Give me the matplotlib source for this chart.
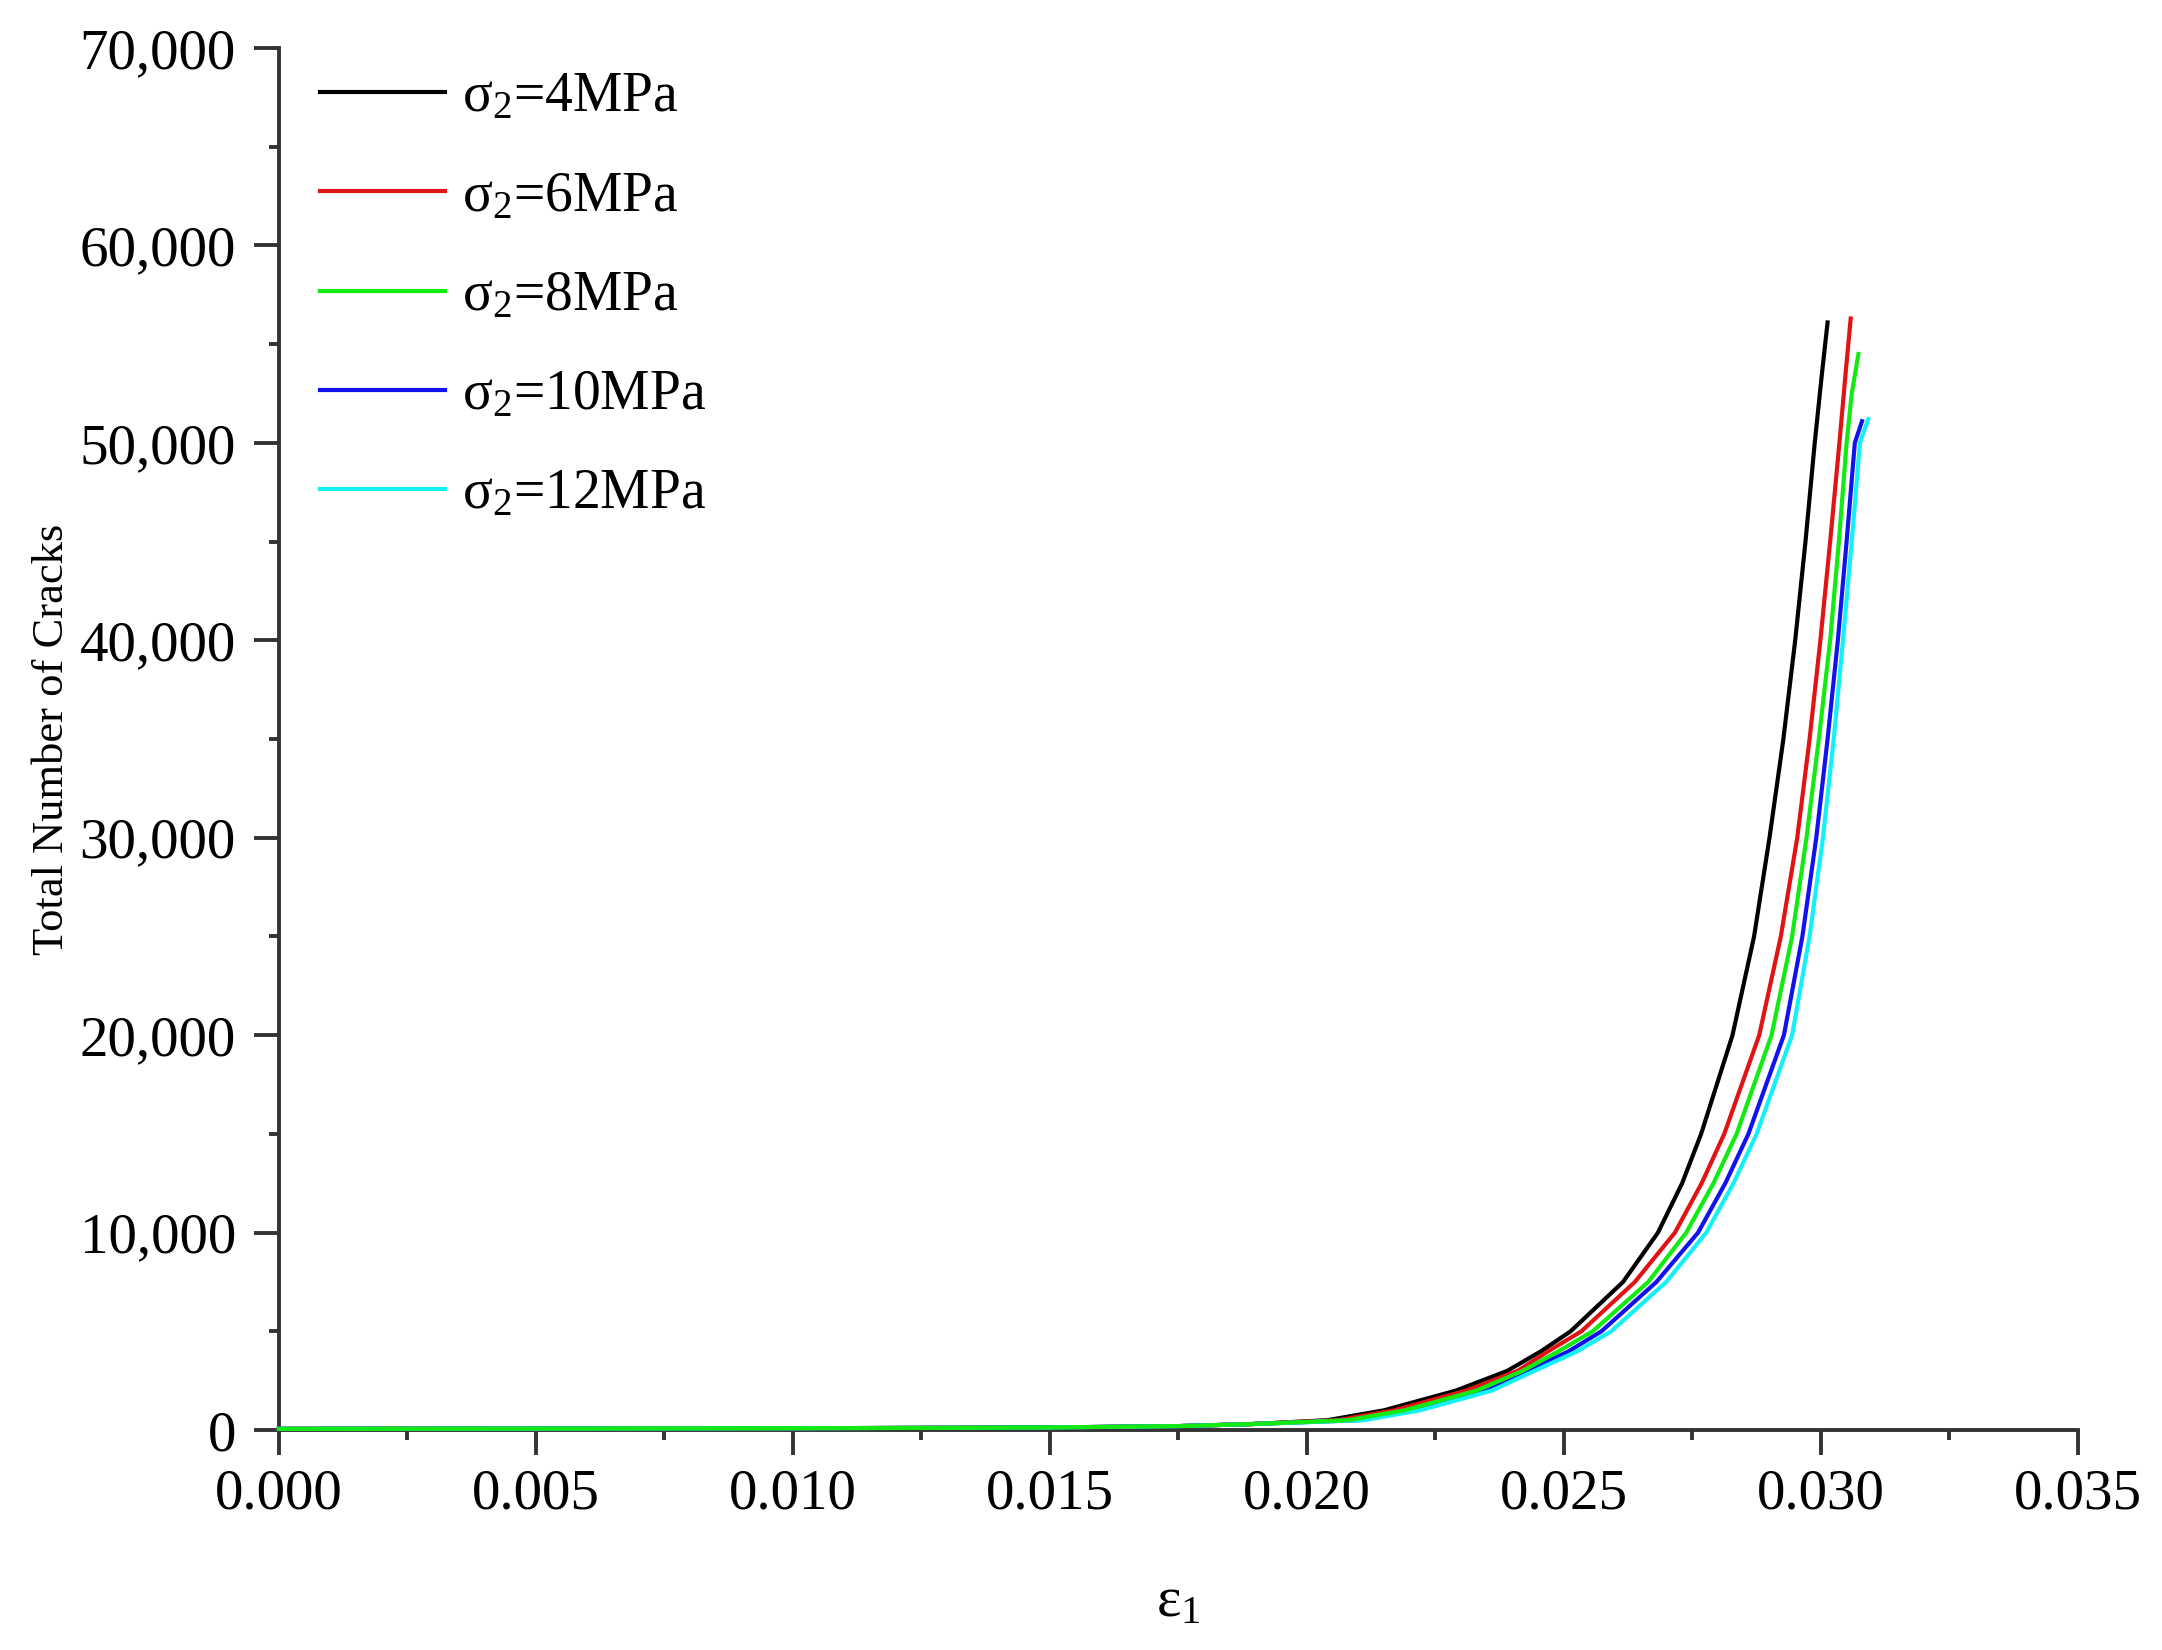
import matplotlib
matplotlib.use("Agg")
import matplotlib.pyplot as plt
from matplotlib.ticker import FuncFormatter, MultipleLocator

plt.rcParams['font.family'] = ['Liberation Serif', 'DejaVu Serif']
plt.rcParams['mathtext.fontset'] = 'custom'
plt.rcParams['mathtext.rm'] = 'Liberation Serif'
plt.rcParams['mathtext.it'] = 'Liberation Serif:italic'

# values (strain, total cracks)
labels = ['$\\mathregular{σ_2}$=4MPa', '$\\mathregular{σ_2}$=6MPa', '$\\mathregular{σ_2}$=8MPa',
          '$\\mathregular{σ_2}$=10MPa', '$\\mathregular{σ_2}$=12MPa']
colors = ['#000000', '#e01414', '#12ea12', '#1212ee', '#14f0f8']

levels = [60, 90, 130, 200, 300, 500, 1000, 2000, 3000, 4000, 5000, 7500, 10000, 12500,
          15000, 20000, 25000, 30000, 35000, 40000, 45000, 50000]

x_black = [0, 0.010, 0.015, 0.0175, 0.0189, 0.0204, 0.0215, 0.0229, 0.0239, 0.02456, 0.02513, 0.02615,
           0.02683, 0.0273, 0.02767, 0.02828, 0.0287, 0.0290, 0.02927, 0.0295, 0.0297, 0.02988,
           0.03002, 0.03013]
y_black = levels + [53500, 56100]

x_red = [0, 0.010, 0.015, 0.0175, 0.0189, 0.0206, 0.0217, 0.0231, 0.0241, 0.0247, 0.02534, 0.02638,
         0.02716, 0.02768, 0.02812, 0.0288, 0.02922, 0.02954, 0.02978, 0.02999, 0.03018, 0.03036,
         0.03048, 0.03058]
y_red = levels + [53500, 56300]

x_green = [0, 0.010, 0.015, 0.0175, 0.0189, 0.0208, 0.0219, 0.0233, 0.0242, 0.0249, 0.02556, 0.02664,
           0.02738, 0.02791, 0.02836, 0.02904, 0.02944, 0.02972, 0.02996, 0.03018, 0.03035, 0.0305,
           0.0306, 0.03073]
y_green = levels + [52500, 54500]

x_blue = [0, 0.010, 0.015, 0.0175, 0.0189, 0.0210, 0.0221, 0.0235, 0.0243, 0.0251, 0.02573, 0.0268,
          0.02761, 0.02814, 0.02859, 0.02928, 0.02964, 0.02991, 0.03013, 0.03033, 0.0305, 0.03066,
          0.0308]
y_blue = levels + [51100]

x_cyan = [0, 0.010, 0.015, 0.0175, 0.0189, 0.0211, 0.0222, 0.0236, 0.02443, 0.02527, 0.02592, 0.02699,
          0.02777, 0.0283, 0.02875, 0.02944, 0.02978, 0.03004, 0.03025, 0.03043, 0.0306, 0.03076,
          0.03092]
y_cyan = levels + [51200]

xs = [x_black, x_red, x_green, x_blue, x_cyan]
ys = [y_black, y_red, y_green, y_blue, y_cyan]
zorders = [3, 3.1, 3.4, 3.2, 3.3]  # green ends up on top along the flat start

fig = plt.figure(figsize=(21.62, 16.5), dpi=100)
ax = fig.add_axes([0.1290, 0.1333, 0.8321, 0.8376])

for x, y, c, lab, z in zip(xs, ys, colors, labels, zorders):
    ax.plot(x, y, color=c, lw=3.0, label=lab, zorder=z, clip_on=False)

ax.set_xlim(0, 0.035)
ax.set_ylim(0, 70000)
ax.xaxis.set_major_locator(MultipleLocator(0.005))
ax.xaxis.set_minor_locator(MultipleLocator(0.0025))
ax.yaxis.set_major_locator(MultipleLocator(10000))
ax.yaxis.set_minor_locator(MultipleLocator(5000))
ax.xaxis.set_major_formatter(FuncFormatter(lambda v, p: f"{v:.3f}"))
ax.yaxis.set_major_formatter(FuncFormatter(lambda v, p: f"{v:,.0f}"))

for s in ['top', 'right']:
    ax.spines[s].set_visible(False)
for s in ['left', 'bottom']:
    ax.spines[s].set_linewidth(2.8)
    ax.spines[s].set_color('#333333')

ax.tick_params(which='major', direction='out', length=18, width=2.8, color='#333333',
               labelsize=41, pad=10)
ax.tick_params(which='minor', direction='out', length=7, width=2.8, color='#333333')
ax.tick_params(axis='y', which='major', pad=13)

ax.set_ylabel("Total Number of Cracks", fontsize=32)
ax.yaxis.set_label_coords(-0.115, 0.5)
ax.set_xlabel("$\\mathregular{ε_1}$", fontsize=42)
ax.xaxis.set_label_coords(0.5, -0.106)

handles, labs = ax.get_legend_handles_labels()
ax.legend(handles, labs, loc='upper left', bbox_to_anchor=(0.023, 0.983), frameon=False,
          fontsize=40, handlelength=2.25, handletextpad=0.3, labelspacing=0.85, borderpad=0,
          borderaxespad=0)

fig.savefig("out.png", dpi=100)
